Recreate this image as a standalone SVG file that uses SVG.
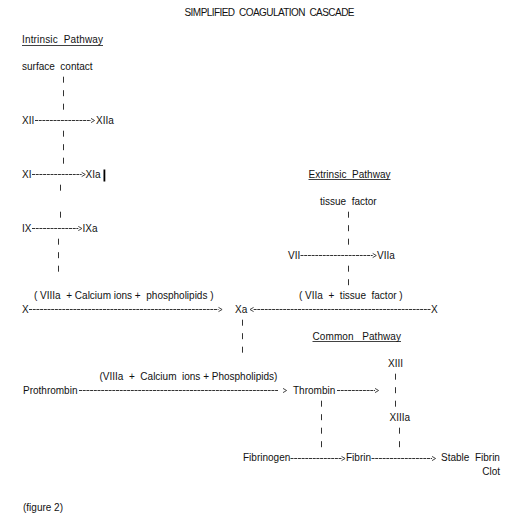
<svg xmlns="http://www.w3.org/2000/svg" xmlns:xlink="http://www.w3.org/1999/xlink" width="532" height="517" viewBox="0 0 532 517">
<style>
text { font-family: "Liberation Sans", Arial, sans-serif; font-size: 10px; fill: #111; white-space: pre; }
.dash { stroke: #333; stroke-width: 1; stroke-dasharray: 3 0.7; fill: none; }
.pipe { stroke: #333; stroke-width: 1; fill: none; }
.chev { fill: none; stroke: #333; stroke-width: 0.9; }
.ul { stroke: #111; stroke-width: 0.8; }
</style>
<defs>
<path id="chevR" class="chev" d="M0,-2.1 L3.6,0 L0,2.1"/>
<path id="chevL" class="chev" d="M0,-2.1 L-3.6,0 L0,2.1"/>
</defs>
<rect width="532" height="517" fill="#fff"/>

<g id="title"><text x="184.5" y="15.7" textLength="170" lengthAdjust="spacing">SIMPLIFIED  COAGULATION  CASCADE</text></g>

<g id="label-intrinsic"><text x="22" y="43.2" textLength="81" lengthAdjust="spacing">Intrinsic  Pathway</text><line class="ul" x1="22" y1="45.5" x2="103" y2="45.5"/></g>
<g id="node-surface-contact"><text x="22" y="69.7">surface  contact</text></g>
<g id="node-XII"><text x="22" y="123.7">XII</text></g>
<g id="node-XIIa"><text x="96" y="123.7">XIIa</text></g>
<g id="node-XI"><text x="22" y="177.7">XI</text></g>
<g id="node-XIa"><text x="85.5" y="177.7">XIa</text></g>
<g id="cursor"><rect x="103.5" y="169.5" width="1.8" height="12" fill="#000"/></g>
<g id="node-IX"><text x="22" y="231.7">IX</text></g>
<g id="node-IXa"><text x="82.5" y="231.7">IXa</text></g>

<g id="label-extrinsic"><text x="308.5" y="177.7" textLength="82" lengthAdjust="spacing">Extrinsic  Pathway</text><line class="ul" x1="308.5" y1="179.5" x2="390.5" y2="179.5"/></g>
<g id="node-tissue-factor"><text x="320" y="204.7">tissue  factor</text></g>
<g id="node-VII"><text x="288" y="258.7">VII</text></g>
<g id="node-VIIa"><text x="377" y="258.7">VIIa</text></g>

<g id="label-cofactor-intrinsic"><text x="34" y="299.2">( VIIIa  + Calcium ions +  phospholipids )</text></g>
<g id="label-cofactor-extrinsic"><text x="299" y="299.2">( VIIa  +  tissue  factor )</text></g>
<g id="node-X-left"><text x="22" y="312.7">X</text></g>
<g id="node-Xa"><text x="235" y="312.7">Xa</text></g>
<g id="node-X-right"><text x="431" y="312.7">X</text></g>

<g id="label-common"><text x="312.5" y="339.7" textLength="88.5" lengthAdjust="spacing">Common   Pathway</text><line class="ul" x1="312.5" y1="341.5" x2="401" y2="341.5"/></g>
<g id="node-XIII"><text x="388" y="366.7">XIII</text></g>
<g id="label-cofactor-prothrombin"><text x="99.5" y="380.2">(VIIIa  +  Calcium  ions + Phospholipids)</text></g>
<g id="node-prothrombin"><text x="23" y="393.7">Prothrombin</text></g>
<g id="node-thrombin"><text x="293" y="393.7">Thrombin</text></g>
<g id="node-XIIIa"><text x="389.5" y="420.7">XIIIa</text></g>
<g id="node-fibrinogen"><text x="243" y="461.2">Fibrinogen</text></g>
<g id="node-fibrin"><text x="346" y="461.2">Fibrin</text></g>
<g id="node-stable-fibrin-clot"><text x="441" y="461.2">Stable  Fibrin</text><text x="500" y="474.7" text-anchor="end">Clot</text></g>

<g id="caption"><text x="23" y="511">(figure 2)</text></g>

<g id="connectors">
<path class="pipe" d="M63.5,76.7V82.7M63.5,90.2V96.2M63.5,103.7V109.7"/>
<line class="dash" x1="35" y1="120.5" x2="91" y2="120.5"/><use href="#chevR" x="91" y="120.5"/>
<path class="pipe" d="M63.5,130.7V136.7M63.5,144.2V150.2M63.5,157.7V163.7"/>
<line class="dash" x1="32" y1="174.5" x2="81.7" y2="174.5"/><use href="#chevR" x="81.7" y="174.5"/>
<path class="pipe" d="M60.5,184.7V190.7M60.5,211.7V217.7"/>
<line class="dash" x1="32" y1="228.5" x2="78.3" y2="228.5"/><use href="#chevR" x="78.3" y="228.5"/>
<path class="pipe" d="M58.5,238.7V244.7M58.5,252.2V258.2M58.5,265.7V271.7"/>

<path class="pipe" d="M348.5,211.7V217.7M348.5,225.2V231.2M348.5,238.7V244.7"/>
<line class="dash" x1="300.5" y1="255.5" x2="372.7" y2="255.5"/><use href="#chevR" x="372.7" y="255.5"/>
<path class="pipe" d="M348.5,265.7V271.7M348.5,279.2V285.2"/>

<line class="dash" x1="29" y1="309.5" x2="218.5" y2="309.5"/><use href="#chevR" x="218.5" y="309.5"/>
<use href="#chevL" x="253.6" y="309.5"/><line class="dash" x1="253.6" y1="309.5" x2="431" y2="309.5"/>
<path class="pipe" d="M242.5,319.7V325.7M242.5,333.2V339.2M242.5,346.7V352.7"/>

<path class="pipe" d="M395.5,373.7V379.7M395.5,387.2V393.2M395.5,400.7V406.7"/>
<line class="dash" x1="79" y1="390.5" x2="278" y2="390.5"/><use href="#chevR" x="283" y="390.5"/>
<line class="dash" x1="337" y1="390.5" x2="375" y2="390.5"/><use href="#chevR" x="375" y="390.5"/>
<path class="pipe" d="M321.5,400.7V406.7M321.5,414.2V420.2M321.5,427.7V433.7M321.5,441.2V447.2"/>
<path class="pipe" d="M399.5,427.7V433.7M399.5,441.2V447.2"/>

<line class="dash" x1="290.5" y1="458.5" x2="341.5" y2="458.5"/><use href="#chevR" x="341.5" y="458.5"/>
<line class="dash" x1="371.5" y1="458.5" x2="432" y2="458.5"/><use href="#chevR" x="432" y="458.5"/>
</g>
</svg>
